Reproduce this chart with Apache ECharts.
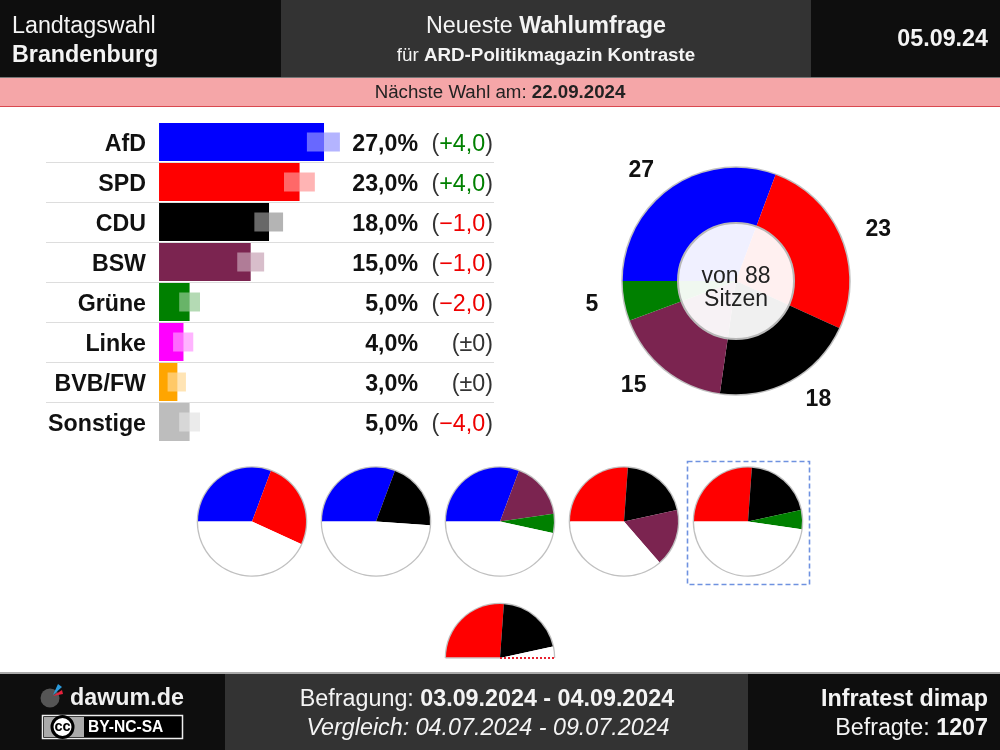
<!DOCTYPE html>
<html><head><meta charset="utf-8">
<style>html,body{margin:0;padding:0;background:#fff}#c{width:1000px;height:750px}</style>
<script src="https://cdn.jsdelivr.net/npm/echarts@6/dist/echarts.min.js"></script>
</head><body><div id="c"></div>
<script>
const parties = ['AfD','SPD','CDU','BSW','Grüne','Linke','BVB/FW','Sonstige'];
const shares = [27,23,18,15,5,4,3,5];
const changes = [4,4,-1,-1,-2,0,0,-4];
const errLow = [24.2,20.45,15.6,12.8,3.3,2.3,1.4,3.3];
const errHigh = [29.6,25.5,20.3,17.2,6.7,5.6,4.4,6.7];
const colors = ['#0000ff','#ff0000','#000000','#7b2450','#008000','#ff00ff','#ffa500','#bdbdbd'];
const seatParties = ['AfD','SPD','CDU','BSW','Grüne'];
const seats = [27,23,18,15,5];
const totalSeats = 88;
const coalitions = [['AfD','SPD'],['AfD','CDU'],['AfD','BSW','Grüne'],['SPD','CDU','BSW'],['SPD','CDU','Grüne']];
const minorityCoalition = ['SPD','CDU'];
const majority = 44;

const font = '"Liberation Sans",Arial,sans-serif';
const fmtShare = v => v.toFixed(1).replace('.',',') + '%';
const fmtChange = v => v === 0 ? '±0' : (v > 0 ? '+' : '−') + Math.abs(v).toFixed(1).replace('.',',');
const colorOf = p => colors[parties.indexOf(p)];
const seatOf = p => seats[seatParties.indexOf(p)];
function overlay(hex){
  const n = parseInt(hex.slice(1),16), c = [n>>16,(n>>8)&255,n&255].map(v=>Math.round(v*0.42+255*0.58));
  return 'rgba('+c.join(',')+',0.7)';
}
const T = (x,y,text,size,fill,extra) => ({type:'text',x,y,z:20,silent:true,style:Object.assign({text,font:size+'px '+font,fill,align:'left',verticalAlign:'middle'},extra||{})});
const rich = (size,fill) => ({b:{font:'bold '+size+'px '+font,fill,color:fill},n:{font:size+'px '+font,fill,color:fill},i:{font:'italic '+size+'px '+font,color:fill}});
const R = (x,y,w,h,fill,extra) => Object.assign({type:'rect',z:1,silent:true,shape:{x,y,width:w,height:h},style:{fill}},extra||{});

const graphic = [
  R(0,0,1000,77,'#0e0e0e'), R(281,0,530,77,'#333333'),
  R(0,77,1000,1,'#777777'),
  R(0,78,1000,28,'#f5a6a8'), R(0,106,1000,1,'#d9484f'),
  R(0,672,1000,2,'#aaaaaa'),
  R(0,674,1000,76,'#0e0e0e'), R(225,674,523,76,'#333333'),
  T(12,27,'Landtagswahl',23.3,'#f4f4f4'),
  T(12,56,'Brandenburg',23.3,'#f4f4f4',{font:'bold 23.3px '+font}),
  T(546,27,'{n|Neueste }{b|Wahlumfrage}',23.3,'#f4f4f4',{align:'center',rich:rich(23.3,'#f4f4f4')}),
  T(546,56,'{n|für }{b|ARD-Politikmagazin Kontraste}',18.8,'#f4f4f4',{align:'center',rich:rich(18.8,'#f4f4f4')}),
  T(988,40,'05.09.24',23.3,'#f4f4f4',{align:'right',font:'bold 23.3px '+font}),
  T(500,93,'{n|Nächste Wahl am: }{b|22.09.2024}',18.7,'#222',{align:'center',rich:rich(18.7,'#222222')}),
  T(487,700,'{n|Befragung: }{b|03.09.2024 - 04.09.2024}',23.3,'#f4f4f4',{align:'center',rich:rich(23.3,'#f4f4f4')}),
  T(488,729,'Vergleich: 04.07.2024 - 09.07.2024',23.3,'#f4f4f4',{align:'center',font:'italic 23.3px '+font}),
  T(988,700,'Infratest dimap',23.3,'#f4f4f4',{align:'right',font:'bold 23.3px '+font}),
  T(988,729,'{n|Befragte: }{b|1207}',23.3,'#f4f4f4',{align:'right',rich:rich(23.3,'#f4f4f4')}),
  {type:'circle',z:5,silent:true,shape:{cx:50,cy:698,r:9.5},style:{fill:'#555555'}},
  {type:'polygon',z:6,silent:true,shape:{points:[[53,695],[58,684],[62,687]]},style:{fill:'#2b9bdc'}},
  {type:'polygon',z:6,silent:true,shape:{points:[[53,696],[62,690],[63,694]]},style:{fill:'#e8213c'}},
  T(70,699,'dawum.de',23.3,'#f0f0f0',{font:'bold 23.3px '+font}),
  R(42.5,715.5,140,23,'#000000',{style:{fill:'#000',stroke:'#eeeeee',lineWidth:1.5},z:5}),
  R(44,717,40,20,'#aaaaaa',{z:6}),
  {type:'circle',z:7,silent:true,shape:{cx:62.5,cy:727,r:10.5},style:{fill:'#fff',stroke:'#000',lineWidth:3}},
  T(62.5,727,'cc',14.5,'#000',{align:'center',font:'bold 14.5px '+font}),
  T(88,728,'BY-NC-SA',15.6,'#fff',{font:'bold 15.6px "Liberation Sans",sans-serif'}),
  T(736,277,'von 88',23,'#222',{align:'center'}),
  T(736,300,'Sitzen',23,'#222',{align:'center'}),
  {type:'rect',z:3,silent:true,shape:{x:687.5,y:461.5,width:122,height:123},style:{fill:'none',stroke:'#6f92e0',lineWidth:1.6,lineDash:[5,3]}},
  {type:'line',z:5,silent:true,shape:{x1:445.5,y1:658,x2:500,y2:658},style:{stroke:'#cccccc',lineWidth:1.5}},
  {type:'line',z:5,silent:true,shape:{x1:500,y1:658,x2:554.5,y2:658},style:{stroke:'#e8212f',lineWidth:2,lineDash:[2,2]}}
];

const miniCenters = [[252,521.5],[376,521.5],[500,521.5],[624,521.5],[748,521.5]];
const series = [];
series.push({type:'bar',xAxisIndex:0,yAxisIndex:0,barWidth:38,silent:true,animation:false,
  data:shares.map((v,i)=>({value:v,itemStyle:{color:colors[i]}}))});
series.push({type:'custom',xAxisIndex:0,yAxisIndex:0,silent:true,animation:false,z:3,
  data:errLow.map((l,i)=>[l,errHigh[i],i]),encode:{x:[0,1],y:2},
  renderItem:(p,api)=>{
    const i=api.value(2),a=api.coord([api.value(0),i]),b=api.coord([api.value(1),i]);
    return {type:'rect',shape:{x:a[0],y:a[1]-9.5,width:b[0]-a[0],height:19},style:{fill:overlay(colors[i])}};
  }});
// rim behind the seat donut
series.push({type:'pie',silent:true,animation:false,center:[736,281],radius:[112,114.8],z:1,label:{show:false},
  data:[{value:1,itemStyle:{color:'#c0c0c0'}}]});
series.push({type:'pie',silent:true,animation:false,center:[736,281],radius:[0,113.3],startAngle:180,clockwise:true,
  avoidLabelOverlap:false,z:2,
  label:{show:true,position:'outside',formatter:'{c}',fontFamily:'Liberation Sans',fontWeight:'bold',fontSize:23,color:'#111'},
  labelLine:{show:false,length:21.5,length2:0},
  data:seatParties.map((p,i)=>({name:p,value:seats[i],itemStyle:{color:colorOf(p)}}))});
series.push({type:'pie',silent:true,animation:false,center:[736,281],radius:[0,58],z:3,label:{show:false},
  data:[{value:1,itemStyle:{color:'rgba(255,255,255,0.94)',borderColor:'#b8b8b8',borderWidth:2}}]});
// coalition mini pies
coalitions.forEach((c,k)=>{
  const sum=c.reduce((s,p)=>s+seatOf(p),0);
  series.push({type:'pie',silent:true,animation:false,center:miniCenters[k],radius:[53,55.3],z:1,label:{show:false},
    data:[{value:1,itemStyle:{color:'#c0c0c0'}}]});
  series.push({type:'pie',silent:true,animation:false,center:miniCenters[k],radius:[0,54],startAngle:180,z:2,label:{show:false},
    data:c.map(p=>({name:p,value:seatOf(p),itemStyle:{color:colorOf(p)}})).concat([{name:'Rest',value:totalSeats-sum,itemStyle:{color:'#ffffff'}}])});
});
// half pie: coalition without majority
const minSum=minorityCoalition.reduce((s,p)=>s+seatOf(p),0);
series.push({type:'pie',silent:true,animation:false,center:[500,658],radius:[53,55.3],startAngle:180,endAngle:0,z:1,label:{show:false},
  data:[{value:1,itemStyle:{color:'#c0c0c0'}}]});
series.push({type:'pie',silent:true,animation:false,center:[500,658],radius:[0,54],startAngle:180,endAngle:0,z:2,label:{show:false},
  data:minorityCoalition.map(p=>({name:p,value:seatOf(p),itemStyle:{color:colorOf(p)}})).concat([{name:'Rest',value:majority-minSum,itemStyle:{color:'#ffffff'}}])});

const pad=[5,0,0,0];
const boldRich={t:{fontFamily:'Liberation Sans',fontWeight:'bold',fontSize:23.2,color:'#111'}};
const changeRich={p:{fontFamily:'Liberation Sans',fontSize:23.3,color:'#333'},g:{fontFamily:'Liberation Sans',fontSize:23.3,color:'#008000'},r:{fontFamily:'Liberation Sans',fontSize:23.3,color:'#ee0000'}};
const chart=echarts.init(document.getElementById('c'),null,{renderer:'canvas'});
chart.setOption({
  animation:false,backgroundColor:'#fff',
  graphic:{elements:graphic},
  grid:{left:46,top:122,width:448,height:320,containLabel:false},
  xAxis:{type:'value',min:-18.5,max:54.82,show:false},
  yAxis:[
    {type:'category',inverse:true,data:parties,position:'left',axisLine:{show:false},axisTick:{show:false},
      axisLabel:{interval:0,margin:-100,align:'right',padding:pad,rich:boldRich,formatter:v=>'{t|'+v+'}'},
      splitLine:{show:true,showMinLine:false,showMaxLine:false,interval:0,lineStyle:{color:'#dddddd',width:1}}},
    {type:'category',inverse:true,data:shares.map(fmtShare),position:'right',axisLine:{show:false},axisTick:{show:false},splitLine:{show:false},
      axisLabel:{interval:0,margin:-76,align:'right',padding:pad,rich:boldRich,formatter:v=>'{t|'+v+'}'}},
    {type:'category',inverse:true,data:changes.map(fmtChange),position:'right',axisLine:{show:false},axisTick:{show:false},splitLine:{show:false},
      axisLabel:{interval:0,margin:-1,align:'right',padding:pad,rich:changeRich,
        formatter:v=>v==='±0'?'{p|(±0)}':'{p|(}{'+(v[0]==='+'?'g':'r')+'|'+v+'}{p|)}'}}
  ],
  series
});
</script></body></html>
